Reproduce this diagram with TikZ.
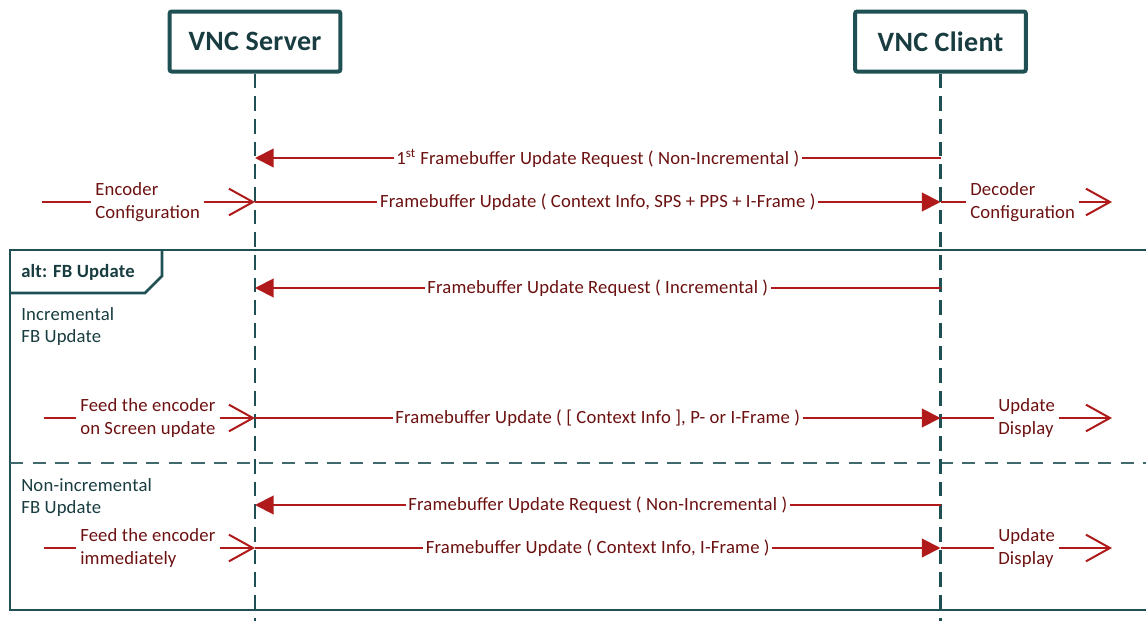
\documentclass[tikz,border=0pt]{standalone}
\usepackage{fontspec}
\setmainfont[LetterSpace=1.0]{Carlito}
\usetikzlibrary{arrows.meta,positioning,calc}
\definecolor{lifeteal}{RGB}{31,80,84}
\definecolor{darkteal}{RGB}{24,60,64}
\definecolor{msgred}{RGB}{176,26,26}
\definecolor{msgtext}{RGB}{108,16,16}
\tikzset{
    actorbox/.style={draw=lifeteal, line width=3pt, rounded corners=1.5pt, fill=white,
        minimum width=128pt, minimum height=45pt, text=darkteal,
        font=\fontsize{21}{25}\selectfont\bfseries},
    lifeline/.style={draw=lifeteal, line width=2.2pt, dash pattern=on 11pt off 6pt},
    msgline/.style={draw=msgred, line width=1.5pt},
    syncmsg/.style={msgline, -{Triangle[length=14pt,width=14pt]}},
    openmsg/.style={msgline, -{Straight Barb[length=18pt,width=20pt]}},
    msglabel/.style={fill=white, text=msgtext, inner sep=2pt,
        font=\fontsize{14}{17}\selectfont},
    sidenote/.style={text=msgtext, align=left, inner sep=3pt,
        font=\fontsize{14}{17}\selectfont},
    guardnote/.style={text=darkteal, align=left, inner sep=0pt,
        font=\fontsize{14}{17}\selectfont},
    framebox/.style={draw=lifeteal, line width=2pt}
}

\begin{document}
\begin{tikzpicture}[x=0.75pt,y=-0.75pt]
\useasboundingbox (0,0) rectangle (1146,621);

% alt frame and its operands
\draw[framebox] (1146,250) -- (10,250) -- (10,610) -- (1146,610);
\draw[framebox] (162,250) -- (162,276) -- (145,293) -- (10,293);
\node[guardnote, anchor=west, font=\fontsize{14}{17}\selectfont\bfseries] (altname) at (21,272) {alt: FB Update};
\draw[lifeteal!85, line width=2pt, dash pattern=on 10pt off 7pt] (10,463) -- (1146,463);
\node[guardnote, anchor=north west] (incguard) at (21,307) {Incremental\\FB Update};
\node[guardnote, anchor=north west] (nonincguard) at (21,478) {Non-incremental\\FB Update};

% participants
\node[actorbox] (server) at (255,41.5) {VNC Server};
\node[actorbox] (client) at (940.5,41.5) {VNC Client};
\coordinate (serverend) at (255,621);
\coordinate (clientend) at (940.5,621);
\draw[lifeline] (server) -- (serverend);
\draw[lifeline] (client) -- (clientend);

% points on the lifelines
\coordinate (s1) at (255,158);  \coordinate (c1) at (940.5,158);
\coordinate (s2) at (255,202);  \coordinate (c2) at (940.5,202);
\coordinate (s3) at (255,288);  \coordinate (c3) at (940.5,288);
\coordinate (s4) at (255,418);  \coordinate (c4) at (940.5,418);
\coordinate (s5) at (255,505);  \coordinate (c5) at (940.5,505);
\coordinate (s6) at (255,548);  \coordinate (c6) at (940.5,548);

% messages between server and client
\draw[syncmsg] (c1) -- node[msglabel] {1\textsuperscript{st} Framebuffer Update Request ( Non-Incremental )} (s1);
\draw[syncmsg] (s2) -- node[msglabel] {Framebuffer Update ( Context Info, SPS + PPS + I-Frame )} (c2);
\draw[syncmsg] (c3) -- node[msglabel] {Framebuffer Update Request ( Incremental )} (s3);
\draw[syncmsg] (s4) -- node[msglabel] {Framebuffer Update ( [ Context Info ], P- or I-Frame )} (c4);
\draw[syncmsg] (c5) -- node[msglabel] {Framebuffer Update Request ( Non-Incremental )} (s5);
\draw[syncmsg] (s6) -- node[msglabel] {Framebuffer Update ( Context Info, I-Frame )} (c6);

% found messages into the server
\coordinate (encin) at (42,202);
\node[sidenote, anchor=west] (enccfg) at (91,202) {Encoder\\Configuration};
\draw[msgline] (encin) -- (enccfg);
\draw[openmsg] (enccfg) -- (s2);

\coordinate (feedin) at (44,418);
\node[sidenote, anchor=west] (feedscreen) at (76,418) {Feed the encoder\\on Screen update};
\draw[msgline] (feedin) -- (feedscreen);
\draw[openmsg] (feedscreen) -- (s4);

\coordinate (feednow) at (44,548);
\node[sidenote, anchor=west] (feedimm) at (76,548) {Feed the encoder\\immediately};
\draw[msgline] (feednow) -- (feedimm);
\draw[openmsg] (feedimm) -- (s6);

% lost messages out of the client
\coordinate (decout) at (1112,202);
\node[sidenote, anchor=west] (deccfg) at (966,202) {Decoder\\Configuration};
\draw[msgline] (c2) -- (deccfg);
\draw[openmsg] (deccfg) -- (decout);

\coordinate (dispout) at (1112,418);
\node[sidenote, anchor=west] (dispinc) at (994,418) {Update\\Display};
\draw[msgline] (c4) -- (dispinc);
\draw[openmsg] (dispinc) -- (dispout);

\coordinate (dispfull) at (1112,548);
\node[sidenote, anchor=west] (dispnow) at (994,548) {Update\\Display};
\draw[msgline] (c6) -- (dispnow);
\draw[openmsg] (dispnow) -- (dispfull);
\end{tikzpicture}
\end{document}
